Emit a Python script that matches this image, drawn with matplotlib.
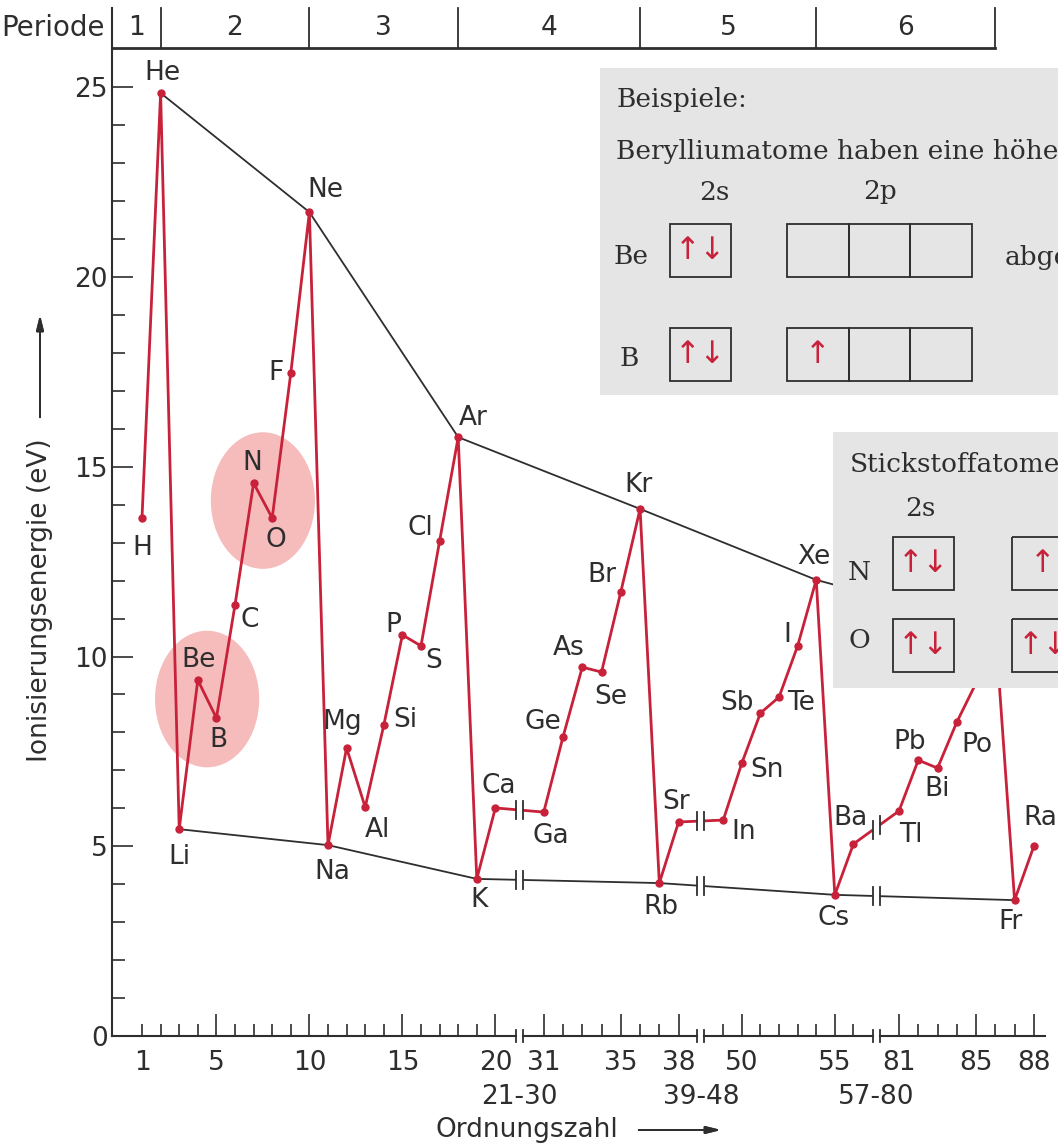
import numpy as np
import matplotlib.pyplot as plt
from matplotlib.patches import Ellipse, Rectangle

# ------------------------------------------------------------
# Ionisierungsenergie der Hauptgruppenelemente (Werte aus dem Bild)
# ------------------------------------------------------------
symbols = ["H", "He", "Li", "Be", "B", "C", "N", "O", "F", "Ne",
           "Na", "Mg", "Al", "Si", "P", "S", "Cl", "Ar", "K", "Ca",
           "Ga", "Ge", "As", "Se", "Br", "Kr", "Rb", "Sr",
           "In", "Sn", "Sb", "Te", "I", "Xe", "Cs", "Ba",
           "Tl", "Pb", "Bi", "Po", "At", "Rn", "Fr", "Ra"]
z_numbers = [1, 2, 3, 4, 5, 6, 7, 8, 9, 10,
             11, 12, 13, 14, 15, 16, 17, 18, 19, 20,
             31, 32, 33, 34, 35, 36, 37, 38,
             49, 50, 51, 52, 53, 54, 55, 56,
             81, 82, 83, 84, 85, 86, 87, 88]
energy_ev = [13.65, 24.85, 5.45, 9.38, 8.38, 11.36, 14.57, 13.65, 17.47, 21.71,
             5.03, 7.59, 6.03, 8.19, 10.57, 10.28, 13.04, 15.78, 4.14, 6.01,
             5.90, 7.88, 9.72, 9.59, 11.70, 13.89, 4.03, 5.64,
             5.69, 7.19, 8.51, 8.93, 10.28, 12.02, 3.72, 5.06,
             5.93, 7.27, 7.06, 8.27, 9.30, 10.75, 3.58, 5.00]

noble_gases = ["He", "Ne", "Ar", "Kr", "Xe", "Rn"]
alkali_metals = ["Li", "Na", "K", "Rb", "Cs", "Fr"]
highlight_pairs = [("Be", "B"), ("N", "O")]
hidden_labels = ["At", "Rn"]

xtick_major = [5, 10, 15, 20, 31, 35, 38, 50, 55, 81, 85, 88]
skipped_ranges = ["21-30", "39-48", "57-80"]
period_labels = ["1", "2", "3", "4", "5", "6"]

# electron boxes of the examples
be_config = ["↑↓", "", "", ""]
b_config = ["↑↓", "↑", "", ""]
n_config = ["↑↓", "↑", "↑", "↑"]
o_config = ["↑↓", "↑↓", "↑", "↑"]

# broken x axis: atomic number -> position on the axis
seg_z = [1, 20, 31, 38, 49, 56, 81, 88]
seg_pos = [1, 20, 22.6, 29.85, 32.25, 39.25, 41.7, 48.95]


def xpos(z):
    return np.interp(z, seg_z, seg_pos)


breaks = [(seg_pos[i] + seg_pos[i + 1]) / 2 for i in (1, 3, 5)]

# label placement (offset in pixels from the dot)
label_offsets = {
    "H": (0, -30), "He": (2, 20), "Li": (0, -28), "Be": (1, 20), "B": (2, -22),
    "C": (15, -15), "N": (-1, 20), "O": (4, -22), "F": (-15, 0), "Ne": (16, 22),
    "Na": (4, -27), "Mg": (-4, 26), "Al": (12, -23), "Si": (22, 5), "P": (-9, 10),
    "S": (13, -15), "Cl": (-19, 13), "Ar": (15, 19), "K": (2, -21), "Ca": (3, 22),
    "Ga": (7, -24), "Ge": (-20, 15), "As": (-14, 19), "Se": (9, -25), "Br": (-19, 17),
    "Kr": (-2, 24), "Rb": (2, -24), "Sr": (-3, 20), "In": (20, -12), "Sn": (25, -7),
    "Sb": (-23, 10), "Te": (22, -6), "I": (-10, 11), "Xe": (-2, 23), "Cs": (-1, -23),
    "Ba": (-3, 26), "Tl": (12, -24), "Pb": (-9, 18), "Bi": (0, -21), "Po": (20, -23),
    "Fr": (-4, -22), "Ra": (6, 28),
}

RED = "#c8213a"
INK = "#2e2e2e"
PINK = "#f6bcbc"
GREY_BG = "#e5e5e5"
SANS = "DejaVu Sans"
SERIF = "DejaVu Serif"

W, H = 1058, 1145
fig = plt.figure(figsize=(W / 100, H / 100), dpi=100)
ax = fig.add_axes([112 / W, 1 - 1036 / H, (1045 - 112) / W, (1036 - 8) / H])
x_left, x_right = -0.613, 49.55
ax.set_xlim(x_left, x_right)
ax.set_ylim(0, 27.09)

for s in ["top", "right", "bottom"]:
    ax.spines[s].set_visible(False)
ax.spines["left"].set_linewidth(1.5)
ax.spines["left"].set_color(INK)

# y ticks
ax.set_yticks(range(0, 26, 5))
ax.set_yticks([v for v in range(1, 26) if v % 5], minor=True)
ax.tick_params(axis="y", which="major", direction="in", length=15, width=1.2,
               color=INK, labelsize=19, labelcolor=INK, pad=3)
ax.tick_params(axis="y", which="minor", direction="in", length=9, width=1.2, color=INK)

# x ticks
all_z = list(range(1, 21)) + list(range(31, 39)) + list(range(49, 57)) + list(range(81, 89))
minor_z = [z for z in all_z if z not in xtick_major]
ax.set_xticks(xpos(xtick_major), [str(z) for z in xtick_major])
ax.set_xticks(xpos(minor_z), ["1" if z == 1 else "" for z in minor_z], minor=True)
ax.tick_params(axis="x", which="major", direction="in", length=16, width=1.2,
               color=INK, labelsize=19, labelcolor=INK, pad=10)
ax.tick_params(axis="x", which="minor", direction="in", length=9, width=1.2,
               color=INK, labelsize=19, labelcolor=INK, pad=10)
for lab in ax.get_xticklabels(which="both") + ax.get_yticklabels():
    lab.set_family(SANS)

# broken x axis line
g = 0.19
edges = [x_left] + [v for b in breaks for v in (b - g, b + g)] + [x_right]
for a, b in zip(edges[::2], edges[1::2]):
    ax.plot([a, b], [0, 0], color=INK, lw=1.5, clip_on=False, zorder=5)
for b in breaks:
    for dx in (-g, g):
        ax.plot([b + dx] * 2, [-0.17, 0.17], color=INK, lw=1.3, clip_on=False, zorder=5)

for b, txt in zip(breaks, skipped_ranges):
    ax.text(b, -1.6, txt, ha="center", va="center", fontsize=19, color=INK,
            family=SANS, clip_on=False)

xs = xpos(z_numbers)
ys = np.array(energy_ev)
idx = {s: i for i, s in enumerate(symbols)}

# highlighted pairs
for a, b in highlight_pairs:
    cx = (xs[idx[a]] + xs[idx[b]]) / 2
    cy = (ys[idx[a]] + ys[idx[b]]) / 2
    ax.add_patch(Ellipse((cx, cy), 5.6, 3.6, color=PINK, lw=0, zorder=1))

# envelopes
ng = [idx[s] for s in noble_gases]
am = [idx[s] for s in alkali_metals]
ax.plot(xs[ng], ys[ng], color=INK, lw=1.3, zorder=2)
ax.plot(xs[am], ys[am], color=INK, lw=1.3, zorder=2)

# main curve
ax.plot(xs, ys, color=RED, lw=2, marker="o", ms=5, zorder=3)


def break_marks(xv, yv):
    for x0, x1, y0, y1 in zip(xv[:-1], xv[1:], yv[:-1], yv[1:]):
        for b in breaks:
            if x0 < b < x1:
                yy = np.interp([b - g, b + g], [x0, x1], [y0, y1])
                ax.plot([b - g, b + g], yy, color="white", lw=4, zorder=4,
                        solid_capstyle="butt")
                for xb, yb in zip([b - g, b + g], yy):
                    ax.plot([xb, xb], [yb - 0.24, yb + 0.24], color=INK, lw=1.3, zorder=5)


break_marks(xs, ys)
break_marks(xs[am], ys[am])

# element labels
for s, x, y in zip(symbols, xs, ys):
    if s in hidden_labels:
        continue
    ax.annotate(s, (x, y), xytext=label_offsets[s], textcoords="offset pixels",
                ha="center", va="center", fontsize=19, family=SANS, color=INK,
                zorder=6, annotation_clip=False)

# period bar
bar_low, bar_top = 26.03, 27.09
ng_x = list(xs[ng])
ax.plot([x_left, ng_x[-1]], [bar_low, bar_low], color=INK, lw=2, clip_on=False)
for xv in ng_x:
    ax.plot([xv, xv], [bar_low, bar_top], color=INK, lw=1.3, clip_on=False)
for lab, a, b in zip(period_labels, [x_left] + ng_x[:-1], ng_x):
    ax.text((a + b) / 2, (bar_low + bar_top) / 2, lab, ha="center", va="center",
            fontsize=19, family=SANS, color=INK)
fig.text(105 / W, 1 - 28 / H, "Periode", ha="right", va="center", fontsize=20,
         family=SANS, color=INK)

# axis titles
fig.text(40 / W, 1 - 600 / H, "Ionisierungsenergie (eV)", rotation=90,
         ha="center", va="center", fontsize=19, family=SANS, color=INK)
fig.text(527 / W, 1 - 1130 / H, "Ordnungszahl", ha="center", va="center",
         fontsize=19, family=SANS, color=INK)
arrow = dict(arrowstyle="-|>,head_length=0.9,head_width=0.22", color=INK, lw=1.4)
fig.add_artist(plt.annotate("", xy=(40 / W, 1 - 312 / H), xytext=(40 / W, 1 - 420 / H),
                            xycoords="figure fraction", arrowprops=arrow))
fig.add_artist(plt.annotate("", xy=(724 / W, 1 - 1130 / H), xytext=(636 / W, 1 - 1130 / H),
                            xycoords="figure fraction", arrowprops=arrow))


# ---------- inset panels ----------
def panel(x0, y0, x1, y1):
    p = fig.add_axes([x0 / W, 1 - y1 / H, (x1 - x0) / W, (y1 - y0) / H])
    p.set_xlim(0, x1 - x0)
    p.set_ylim(y1 - y0, 0)
    p.set_facecolor(GREY_BG)
    p.set_xticks([])
    p.set_yticks([])
    for s in p.spines.values():
        s.set_visible(False)
    return p


def serif(p, x, y, txt, ha="left"):
    p.text(x, y, txt, ha=ha, va="center", fontsize=19, family=SERIF, color=INK,
           clip_on=True)


def boxes(p, x_s, x_p, top, bottom, config):
    cells = [(x_s, 61)] + [(x_p + i * 61.7, 61.7) for i in range(3)]
    for (cx, cw), e in zip(cells, config):
        p.add_patch(Rectangle((cx, top), cw, bottom - top, fill=False, ec=INK,
                              lw=1.3, clip_on=True))
        if e:
            p.text(cx + cw / 2, (top + bottom) / 2, e, ha="center", va="center",
                   fontsize=22, family=SANS, color=RED, clip_on=True)


p1 = panel(600, 68, W, 395)
serif(p1, 17, 32, "Beispiele:")
serif(p1, 16, 84, "Berylliumatome haben eine höhere")
serif(p1, 114, 124, "2s", ha="center")
serif(p1, 280, 124, "2p", ha="center")
serif(p1, 14, 188, "Be")
serif(p1, 405, 190, "abgeschlossen")
serif(p1, 20, 290, "B")
boxes(p1, 70, 187, 156, 209, be_config)
boxes(p1, 70, 187, 260, 313, b_config)

p2 = panel(833, 432, W, 688)
serif(p2, 17, 33, "Stickstoffatome")
serif(p2, 87, 76, "2s", ha="center")
serif(p2, 15, 141, "N")
serif(p2, 15, 208, "O")
boxes(p2, 60, 179, 105, 158, n_config)
boxes(p2, 60, 179, 187, 240, o_config)

fig.savefig("out.png", dpi=100)
